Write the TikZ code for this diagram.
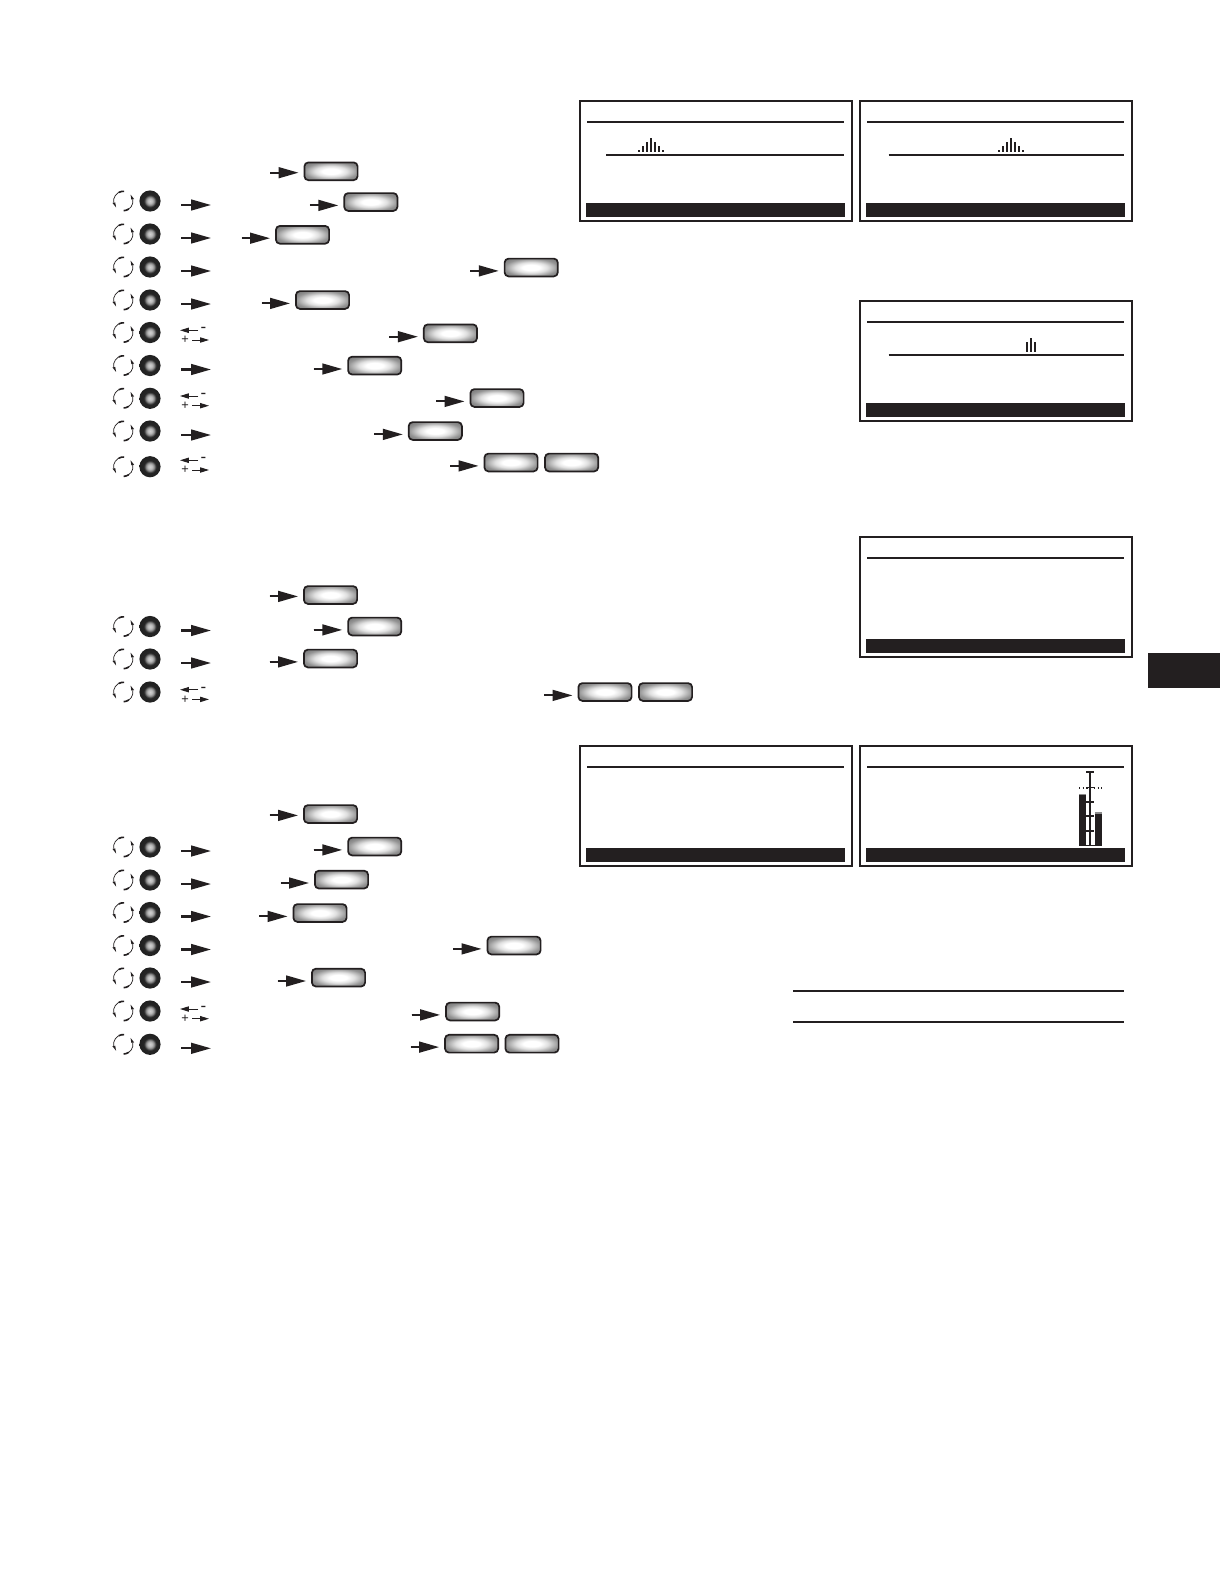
\documentclass[tikz,border=0pt]{standalone}
\usepackage{fontspec}
\setmainfont{Liberation Sans}
\usetikzlibrary{arrows.meta,calc}
\definecolor{ink}{HTML}{231F20}
\pgfdeclareradialshading{btnshade}{\pgfpoint{0bp}{0bp}}{color(0bp)=(white);color(8bp)=(white);color(15bp)=(black!12);color(25bp)=(black!42);color(36bp)=(black!58)}
\pgfdeclareradialshading{knobshade}{\pgfpoint{0bp}{0bp}}{color(0bp)=(black!18);color(6bp)=(black!28);color(11bp)=(black!55);color(14bp)=(black!85);color(36bp)=(black!90)}
\tikzset{
  x=0.5pt,y=-0.5pt,
  btn/.style={draw=ink,line width=0.85pt,rounded corners=2pt,shading=btnshade,minimum width=26.6pt,minimum height=8.9pt,inner sep=0pt},
  knob/.style={circle,shading=knobshade,minimum size=10.6pt,inner sep=0pt},
  bigarrow/.style={draw=ink,fill=ink,line width=1.05pt,-{Triangle[length=10pt,width=5.4pt]}},
  smallarrow/.style={draw=ink,fill=ink,line width=0.5pt,-{Triangle[length=4.4pt,width=2.6pt]}},
  screen/.style={draw=ink,line width=1pt,minimum width=136pt,minimum height=60pt,inner sep=0pt,outer sep=0.5pt},
  rule/.style={draw=ink,line width=0.9pt},
  barfill/.style={fill=ink,minimum width=129.5pt,minimum height=7pt,inner sep=0pt,outer sep=0pt},
  plussign/.style={font=\fontsize{6.4pt}{6.4pt}\selectfont,text=ink,inner sep=0pt},
  minussign/.style={font=\fontsize{8.5pt}{8.5pt}\selectfont,text=ink,inner sep=0pt},
  spin/.style={ink,line width=0.35pt},
  spinbase/.style={ink,line width=0.8pt}
}
% id, centre x, centre y, arrow y offset
\newcommand\btnarrow[4]{%
  \node[btn] (b#1) at (#2,#3) {};
  \coordinate (t#1) at ({#2-61},{#3+#4+0.4});
  \draw[bigarrow,shorten >=2.5pt] (t#1) -- (t#1 -| b#1.west);
}
% second button of a pair
\newcommand\btnextra[3]{\node[btn] (b#1) at (#2,#3) {};}
% rotary symbol and knob
\newcommand\knobonly[2]{%
  \node[knob] (k#1) at (150,#2) {};
  \begin{scope}[shift={(123.3,#2)},x=0.5pt,y=0.5pt]
    \draw[spin] (100:9.7) arc[start angle=100,end angle=190,radius=9.7];
    \draw[spinbase] (85:9.7) arc[start angle=85,end angle=118,radius=9.7];
    \fill[ink] (222:9.7) -- (190:8.2) -- (190:11) -- cycle;
    \draw[spin] (280:9.7) arc[start angle=280,end angle=370,radius=9.7];
    \draw[spinbase] (272:9.7) arc[start angle=272,end angle=305,radius=9.7];
    \fill[ink] (42:9.7) -- (10:8.2) -- (10:11) -- cycle;
  \end{scope}
}
% knob followed by one big arrow
\newcommand\knobrow[2]{%
  \knobonly{#1}{#2}
  \coordinate (ka#1) at (181,{#2+4});
  \coordinate (kz#1) at (211,{#2+4});
  \draw[bigarrow] (ka#1) -- (kz#1);
}
% knob followed by the minus / plus pair: id, knob y, pair y
\newcommand\knobpm[3]{%
  \knobonly{#1}{#2}
  \coordinate (mr#1) at (198,#3);
  \coordinate (ml#1) at (180,#3);
  \draw[smallarrow] (mr#1) -- (ml#1);
  \node[minussign] (m#1) at (203.4,#3) {-};
  \node[plussign] (p#1) at (185,{#3+9.7}) {+};
  \coordinate (pl#1) at (192.3,{#3+9.7});
  \coordinate (pr#1) at (209,{#3+9.7});
  \draw[smallarrow] (pl#1) -- (pr#1);
}
% screen: id, left x, top y
\newcommand\screenbox[3]{%
  \node[screen,anchor=north west] (s#1) at (#2,#3) {};
  \node[barfill,anchor=north west] (sb#1) at ({#2+6.7},{#3+103}) {};
  \draw[rule] ({#2+7.7},{#3+22}) -- ({#2+264.7},{#3+22});
}
\newcommand\peak[2]{%
  \begin{scope}[shift={(#1,#2)}]
    \foreach \dx/\h in {-12/2,-8/6,-4/10,0/14,4/10,8/6,12/2}
      \fill[ink] ({\dx-1},0) rectangle ({\dx+1},-\h);
  \end{scope}
}
\begin{document}
\begin{tikzpicture}
\useasboundingbox (0,0) rectangle (1224,1584);
\fill[white] (0,0) rectangle (1224,1584);

% section 1
\btnarrow{a1}{331}{171.3}{1}
\knobrow{a2}{201}\btnarrow{a2}{370.8}{202}{3}
\knobrow{a3}{234}\btnarrow{a3}{302.5}{234.8}{3}
\knobrow{a4}{267}\btnarrow{a4}{531.2}{267.5}{3}
\knobrow{a5}{300}\btnarrow{a5}{322.5}{300}{3}
\knobpm{a6}{332.5}{330.3}\btnarrow{a6}{450.4}{333.3}{3}
\knobrow{a7}{365.5}\btnarrow{a7}{374.7}{365.6}{3}
\knobpm{a8}{398.3}{396}\btnarrow{a8}{497}{398}{3}
\knobrow{a9}{431}\btnarrow{a9}{435.3}{431}{3}
\knobpm{a10}{466.7}{460.3}\btnarrow{a10}{511}{462.5}{3}\btnextra{a11}{571.6}{462.5}

% section 2
\btnarrow{c1}{330.5}{595}{1}
\knobrow{c2}{626.5}\btnarrow{c2}{374.7}{626.5}{3}
\knobrow{c3}{659}\btnarrow{c3}{330.5}{658.5}{3}
\knobpm{c4}{692}{689.7}\btnarrow{c4}{605}{692}{3}\btnextra{c5}{665.5}{692}

% section 3
\btnarrow{d1}{330.5}{814}{1}
\knobrow{d2}{847}\btnarrow{d2}{374.7}{846.5}{3}
\knobrow{d3}{880}\btnarrow{d3}{341.5}{879.6}{3}
\knobrow{d4}{912.5}\btnarrow{d4}{320}{913}{3}
\knobrow{d5}{945.5}\btnarrow{d5}{514}{945.5}{3}
\knobrow{d6}{978}\btnarrow{d6}{338.5}{977.6}{3}
\knobpm{d7}{1011}{1009}\btnarrow{d7}{472.6}{1011.5}{3}
\knobrow{d8}{1044.3}\btnarrow{d8}{471.6}{1043.7}{3}\btnextra{d9}{532}{1043.7}

% screens
\screenbox{1}{579.3}{100}
\draw[rule] (606,154.7) -- (844,154.7);
\peak{651}{152}
\screenbox{2}{859.3}{100}
\draw[rule] (888.5,154.7) -- (1123.7,154.7);
\peak{1011}{152}
\screenbox{3}{859.3}{300}
\draw[rule] (888.5,354.7) -- (1123.7,354.7);
\foreach \dx/\h in {-4/9.7,0/13.7,4/9.7}
  \fill[ink] ({1031+\dx-1},351.7) rectangle ({1031+\dx+1},{351.7-\h});
\screenbox{4}{859.3}{536}
\screenbox{5}{579.3}{745.3}
\screenbox{6}{859.3}{745.3}

% bar chart in screen 6
\fill[black!45] (1079,793.8) rectangle (1086,795.2);
\fill[black!45] (1095,812.4) rectangle (1102.2,845.7);
\fill[ink] (1079.3,795) rectangle (1086,845.7);
\fill[ink] (1095,813.6) rectangle (1101.7,845.7);
\draw[ink,line width=0.5pt] (1079,845) -- (1102,845);
\draw[ink,line width=1.3pt] (1090,771.7) -- (1090,845);
\foreach \yy in {771.7,787.5,801.7,816,830.7}
  \draw[ink,line width=0.9pt] (1086,\yy) -- (1094,\yy);
\draw[ink,line width=0.75pt,dash pattern=on 0.55pt off 1.3pt] (1079,788) -- (1102,788);

% lower table rules
\coordinate (ra) at (793,990.8);
\coordinate (rb) at (1124,990.8);
\coordinate (rc) at (793,1022);
\coordinate (rd) at (1124,1022);
\draw[ink,line width=0.9pt] (ra) -- (rb);
\draw[ink,line width=0.9pt] (rc) -- (rd);

% side tab
\fill[ink] (1148,653) rectangle (1220,688);
\end{tikzpicture}
\end{document}
